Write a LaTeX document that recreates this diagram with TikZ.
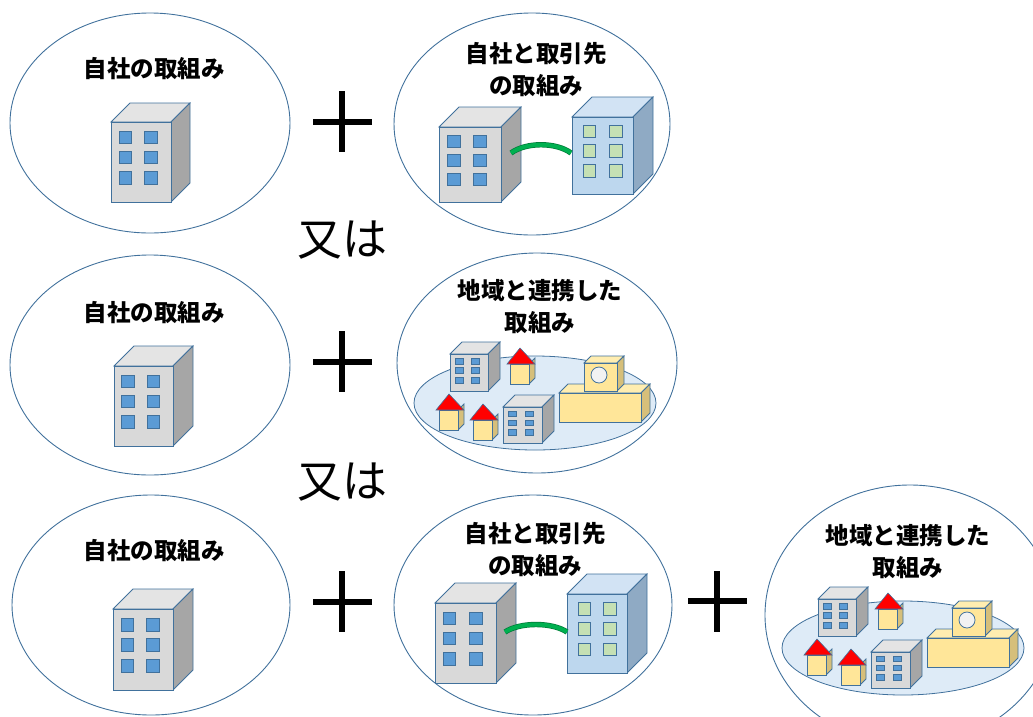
\documentclass[tikz,border=0pt]{standalone}
\usepackage{fontspec}
\newfontfamily\jp{Noto Sans CJK JP}
\definecolor{edgeblue}{HTML}{41719C}
\definecolor{winblue}{HTML}{5B9BD5}
\definecolor{lgray}{HTML}{D9D9D9}
\definecolor{dgray}{HTML}{A6A6A6}
\definecolor{tgray}{HTML}{E4E4E4}
\definecolor{lblue}{HTML}{BDD7EE}
\definecolor{dblue}{HTML}{8FAAC4}
\definecolor{tblue}{HTML}{D2E3F4}
\definecolor{wgreen}{HTML}{C5E0B4}
\definecolor{lsand}{HTML}{FFE699}
\definecolor{dsand}{HTML}{D6BF7A}
\definecolor{tsand}{HTML}{FFEDB0}
\definecolor{field}{HTML}{DEEBF7}
\definecolor{bridgegreen}{HTML}{00B050}
\tikzset{
  ring/.style={draw=edgeblue, line width=0.9pt},
  ground/.style={draw=edgeblue, line width=0.8pt, fill=field},
  grayfront/.style={draw=edgeblue, line width=0.8pt, fill=lgray},
  grayside/.style={draw=edgeblue, line width=0.8pt, fill=dgray},
  graytop/.style={draw=edgeblue, line width=0.8pt, fill=tgray},
  graywin/.style={draw=edgeblue, line width=0.6pt, fill=winblue},
  bluefront/.style={draw=edgeblue, line width=0.8pt, fill=lblue},
  blueside/.style={draw=edgeblue, line width=0.8pt, fill=dblue},
  bluetop/.style={draw=edgeblue, line width=0.8pt, fill=tblue},
  bluewin/.style={draw=edgeblue, line width=0.6pt, fill=wgreen},
  facfront/.style={draw=edgeblue, line width=0.8pt, fill=lsand},
  facside/.style={draw=edgeblue, line width=0.8pt, fill=dsand},
  factop/.style={draw=edgeblue, line width=0.8pt, fill=tsand},
  roof/.style={draw=edgeblue, line width=0.6pt, fill=red},
  porthole/.style={draw=edgeblue, line width=0.8pt, fill=black!5},
  bridge/.style={draw=bridgegreen!70!black, line width=0.7pt, double=bridgegreen, double distance=4pt},
  plusbar/.style={line width=6pt},
  jptext/.style={font=\jp\bfseries\fontsize{23.5}{32}\selectfont, align=center, inner sep=0pt},
  ortext/.style={font=\jp\fontsize{45}{50}\selectfont, inner sep=0pt}
}
% box: left, top, width, height, depth, style prefix
\newcommand{\crate}[6]{%
  \draw[#6top] (#1,#2) -- ++(#5,-#5) -- ++(#3,0) -- ++(-#5,#5) -- cycle;
  \draw[#6side] (#1+#3,#2) -- ++(#5,-#5) -- ++(0,#4) -- ++(-#5,#5) -- cycle;
  \draw[#6front] (#1,#2) rectangle ++(#3,#4);}
% building with 2 x 3 windows
\newcommand{\tower}[7][0.13,0.56]{%
  \crate{#2}{#3}{#4}{#5}{#6}{#7}
  \foreach \wc in {#1}
    \foreach \wr in {0.11,0.36,0.62}
      \draw[#7win] (#2+\wc*#4,#3+\wr*#5) rectangle ++(0.21*#4,0.16*#5);}
\newcommand{\house}[2]{%
  \draw[facside] (#1+19,#2) -- ++(6,-6) -- ++(0,20) -- ++(-6,6) -- cycle;
  \draw[facfront] (#1,#2) rectangle ++(19,20);
  \draw[roof] (#1-3,#2) -- (#1+10,#2-16) -- (#1+25,#2) -- cycle;}
% town with houses and factory, centred on its field
\newcommand{\area}[3]{%
  \begin{scope}[shift={(#1,#2)}]
    \draw[ground] (0,0) ellipse [x radius=121pt, y radius=47pt];
    \tower{-85}{-49}{38}{37}{12}{gray}
    \house{-25}{-39}
    \crate{24}{-10}{82}{29}{9}{fac}
    \crate{49}{-40}{33}{28}{7}{fac}
    \draw[porthole] (64,-28) circle [radius=8pt];
    \house{-96}{7}
    \house{-62}{17}
    \tower{-32}{4}{39}{36}{12}{gray}
    \node[jptext] (#3) at (5,-96) {地域と連携した\\取組み};
  \end{scope}}

\begin{document}
\begin{tikzpicture}[x=1pt,y=-1pt]
  \useasboundingbox (0,0) rectangle (1033,716);
  % circles
  \draw[ring] (150,123) ellipse [x radius=140pt, y radius=110pt]
    (532,124) ellipse [x radius=138pt, y radius=111pt]
    (150,365) ellipse [x radius=140pt, y radius=110pt]
    (537,363) ellipse [x radius=140pt, y radius=110pt]
    (151,605) ellipse [x radius=139pt, y radius=110pt]
    (533,605) ellipse [x radius=139pt, y radius=110pt]
    (910,615) ellipse [x radius=145pt, y radius=130pt];

  % own company
  \node[jptext] (own1) at (154,69) {自社の取組み};
  \node[jptext] (own2) at (154,313) {自社の取組み};
  \node[jptext] (own3) at (154,551) {自社の取組み};
  \tower{111}{122}{60}{80}{19}{gray}
  \tower{114}{366}{59}{80}{20}{gray}
  \tower{113}{609}{60}{81}{20}{gray}

  % company and partner
  \node[jptext] (pair1) at (536,70) {自社と取引先\\の取組み};
  \tower{439}{127}{62}{75}{20}{gray}
  \tower[0.18,0.61]{572}{117}{61}{77}{20}{blue}
  \draw[bridge] (511,153) .. controls (526,142) and (556,142) .. (571,153);
  \node[jptext] (pair2) at (535,550) {自社と取引先\\の取組み};
  \tower{435}{603}{61}{80}{20}{gray}
  \tower[0.18,0.61]{567}{594}{60}{79}{20}{blue}
  \draw[bridge] (505,632) .. controls (520,622) and (552,622) .. (567,632);

  % region
  \area{535}{403}{area1}
  \area{903}{648}{area2}

  \draw[plusbar] (313,122) -- (372,122) (342,91) -- (342,152)
    (313,362) -- (372,362) (342,331) -- (342,392)
    (313,602) -- (372,602) (342,571) -- (342,632)
    (688,601) -- (747,601) (717,571) -- (717,632);
  \node[ortext] (or1) at (342,240) {又は};
  \node[ortext] (or2) at (342,482) {又は};
\end{tikzpicture}
\end{document}
